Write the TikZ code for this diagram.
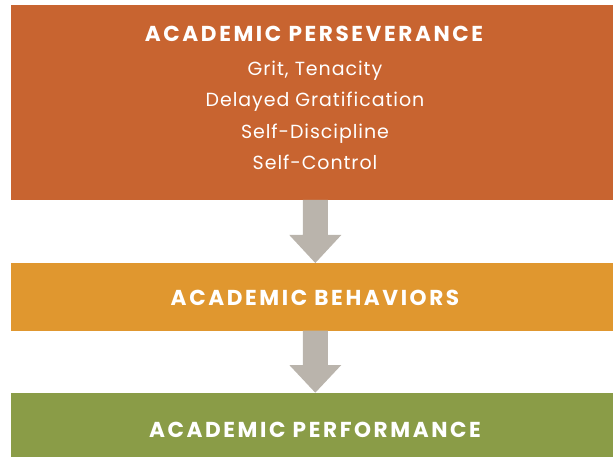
\documentclass[tikz,border=0pt]{standalone}
\usepackage{fontspec}
\setmainfont{Poppins}
\newfontfamily\titlefam{Poppins}[LetterSpace=12]
\newfontfamily\itemfam{Poppins}[LetterSpace=5]
\usetikzlibrary{calc}
\definecolor{persev}{HTML}{C86430}
\definecolor{behav}{HTML}{E0972F}
\definecolor{perf}{HTML}{8A9C47}
\definecolor{arrowgray}{HTML}{BAB4AC}
\tikzset{
  band/.style={rectangle, inner sep=0pt, outer sep=0pt, minimum width=602pt},
  title/.style={text=white, font=\titlefam\fontsize{21.6}{21.6}\selectfont\bfseries, inner sep=0pt, anchor=base},
  item/.style={text=white, font=\itemfam\fontsize{19}{19}\selectfont, inner sep=0pt, anchor=base},
  bigarrow/.style={fill=arrowgray, draw=none}
}
\begin{document}
\begin{tikzpicture}[x=1pt,y=-1pt]
\useasboundingbox (0,0) rectangle (613,457);
\node[band, fill=persev, minimum height=195pt] (top) at (312,102.5) {};
\node[band, fill=behav, minimum height=67.5pt] (mid) at (312,296.75) {};
\node[band, fill=perf, minimum height=64.3pt] (bot) at (312,424.85) {};
\node[title] (t1) at (314,42) {ACADEMIC PERSEVERANCE};
\node[item] (i1) at (315,75.5) {Grit, Tenacity};
\node[item] (i2) at (315,107) {Delayed Gratification};
\node[item] (i3) at (315,138.5) {Self-Discipline};
\node[item] (i4) at (315,170) {Self-Control};
\node[title] (t2) at (315,305.5) {ACADEMIC BEHAVIORS};
\node[title] (t3) at (315,437.5) {ACADEMIC PERFORMANCE};
\coordinate (a1) at ($(top.south)+(3.3,0)$);
\fill[bigarrow] ($(a1)+(-12.5,0)$) -- ($(a1)+(-12.5,35)$) -- ($(a1)+(-26,35)$)
  -- (a1 |- mid.north) -- ($(a1)+(26,35)$) -- ($(a1)+(12.5,35)$) -- ($(a1)+(12.5,0)$) -- cycle;
\coordinate (a2) at ($(mid.south)+(3.3,0)$);
\fill[bigarrow] ($(a2)+(-12.5,0)$) -- ($(a2)+(-12.5,34.5)$) -- ($(a2)+(-26,34.5)$)
  -- (a2 |- bot.north) -- ($(a2)+(26,34.5)$) -- ($(a2)+(12.5,34.5)$) -- ($(a2)+(12.5,0)$) -- cycle;
\end{tikzpicture}
\end{document}
